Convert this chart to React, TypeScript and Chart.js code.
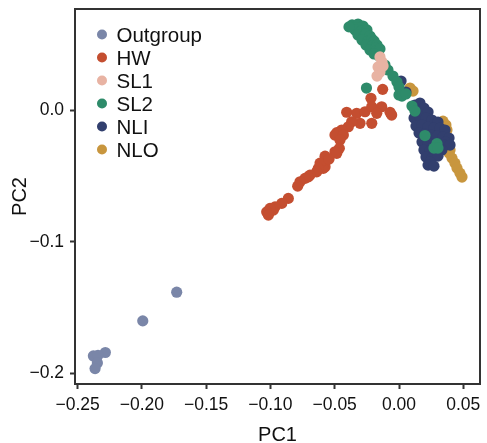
import React, { useEffect, useRef } from "react";
import { Chart, registerables } from "chart.js";

Chart.register(...registerables);

// ---------- data ----------
const groupNames = ["Outgroup", "HW", "SL1", "SL2", "NLI", "NLO"];
const groupColors = ["#7a86a8", "#c44e30", "#e8b3a3", "#2e8b6a", "#323f6e", "#c8963e"];

const outgroupPC1 = [-0.1729, -0.1993, -0.2284, -0.2377, -0.2341, -0.2346, -0.2364];
const outgroupPC2 = [-0.1383, -0.1601, -0.1841, -0.1867, -0.1862, -0.192, -0.1963];

const hwPC1 = [
  -0.0127, -0.0218, -0.0407, -0.0329, -0.0264, -0.0212, -0.0135, -0.007, -0.0057, -0.0173,
  -0.0303, -0.0212, -0.0368, -0.0394, -0.0446, -0.0484, -0.0498, -0.0433, -0.0459, -0.0464,
  -0.0498, -0.0484, -0.0575, -0.0575, -0.0589, -0.0614, -0.0628, -0.064, -0.0692, -0.0705,
  -0.0731, -0.077, -0.0788, -0.0861, -0.0912, -0.0964, -0.0977, -0.1003, -0.1029, -0.1016,
  -0.0544,
];
const hwPC2 = [
  0.0157, 0.0089, -0.0017, -0.0025, -0.0013, 0.0025, 0.0025, -0.0017, -0.0038, -0.0025,
  -0.0101, -0.0101, -0.0089, -0.0127, -0.0152, -0.0172, -0.019, -0.019, -0.0228, -0.0291,
  -0.0317, -0.0329, -0.035, -0.0431, -0.0443, -0.0403, -0.0443, -0.0469, -0.0494, -0.0507,
  -0.0519, -0.0545, -0.0578, -0.0671, -0.0709, -0.0735, -0.076, -0.0747, -0.0773, -0.0798,
  -0.0372,
];

const sl1PC1 = [-0.0148, -0.0132, -0.0163, -0.0148, -0.0171, -0.0124];
const sl1PC2 = [0.0403, 0.0365, 0.0327, 0.0289, 0.0258, 0.0334];

const sl2PC1 = [
  -0.0365, -0.0319, -0.028, -0.035, -0.0303, -0.0342, -0.0295, -0.0249, -0.0319, -0.0272,
  -0.0257, -0.0226, -0.0288, -0.0241, -0.021, -0.0194, -0.0257, -0.021, -0.0171, -0.0226,
  -0.0179, -0.0179, -0.0148, -0.0194, -0.0156, -0.0389,
  -0.0109, -0.0086, -0.0047, -0.0016, 0.0, -0.0253, 0.0, 0.0023, 0.0054, 0.0101,
  0.0124, 0.0202, 0.0295, 0.0272, 0.0303,
];
const sl2PC2 = [
  0.0646, 0.0653, 0.0638, 0.0623, 0.0623, 0.0608, 0.06, 0.0608, 0.057, 0.0562,
  0.0578, 0.0562, 0.0532, 0.0524, 0.054, 0.0524, 0.0494, 0.0486, 0.0494, 0.0456,
  0.0471, 0.0448, 0.0464, 0.0426, 0.041, 0.0631,
  0.0342, 0.0304, 0.0258, 0.0213, 0.0175, 0.0167, 0.0114, 0.0106, 0.0122, 0.003,
  -0.0008, -0.0194, -0.0255, -0.0289, -0.0289,
];

const nliPC1 = [
  0.0016, 0.0054, 0.0124, 0.0163, 0.0148, 0.0194, 0.0226, 0.0117, 0.0163, 0.021,
  0.0257, 0.0303, 0.0132, 0.0179, 0.0226, 0.0272, 0.0319, 0.0358, 0.0156, 0.0202,
  0.0249, 0.0295, 0.0342, 0.0389, 0.0179, 0.0226, 0.0365, 0.0358, 0.0397, 0.0194,
  0.0241, 0.0288, 0.0334, 0.021, 0.0257, 0.0303, 0.0241, 0.0226, 0.0272,
];
const nliPC2 = [
  0.022, 0.0137, 0.0038, 0.0053, 0.0, 0.0015, -0.0015, -0.0061, -0.0053, -0.0061,
  -0.0076, -0.0091, -0.0122, -0.0114, -0.0129, -0.0137, -0.0137, -0.0152, -0.0175, -0.0182,
  -0.019, -0.0198, -0.0205, -0.0213, -0.0243, -0.0251, -0.0243, -0.0266, -0.0266, -0.0304,
  -0.0312, -0.0304, -0.0304, -0.0357, -0.0365, -0.035, -0.0395, -0.0418, -0.0426,
];

const nloPC1 = [0.0086, 0.0109, 0.0218, 0.0342, 0.0365, 0.0373, 0.0373, 0.0397, 0.0389, 0.0412, 0.0435, 0.0451, 0.0474, 0.049];
const nloPC2 = [0.0167, 0.0144, -0.0023, -0.0084, -0.0114, -0.0152, -0.0281, -0.0304, -0.0327, -0.0365, -0.0403, -0.0441, -0.0479, -0.0509];

const xTicks = [-0.25, -0.2, -0.15, -0.1, -0.05, 0, 0.05];
const yTicks = [-0.2, -0.1, 0];
const xRange = [-0.252, 0.063];
const yRange = [-0.208, 0.0767];
const xTitle = "PC1";
const yTitle = "PC2";

const seriesPC1 = [outgroupPC1, hwPC1, sl1PC1, sl2PC1, nliPC1, nloPC1];
const seriesPC2 = [outgroupPC2, hwPC2, sl1PC2, sl2PC2, nliPC2, nloPC2];

// ---------- helpers ----------
const FONT = "'Liberation Sans', Arial, Helvetica, sans-serif";

function fmt(v: number, d: number): string {
  const r = Math.round(v * 1000) / 1000;
  if (Math.abs(r) < 1e-9) return (0).toFixed(d);
  return (r < 0 ? "\u2212" : "") + Math.abs(r).toFixed(d);
}

const frameAndLegend = {
  id: "frameAndLegend",
  afterDraw(chart: any) {
    const { ctx, chartArea } = chart;
    ctx.save();
    ctx.strokeStyle = "#333";
    ctx.lineWidth = 2;
    ctx.strokeRect(chartArea.left, chartArea.top, chartArea.right - chartArea.left, chartArea.bottom - chartArea.top);

    ctx.font = `20.5px ${FONT}`;
    ctx.textBaseline = "alphabetic";
    ctx.textAlign = "left";
    chart.data.datasets.forEach((ds: any, i: number) => {
      const y = 34.5 + i * 23;
      ctx.fillStyle = ds.backgroundColor;
      ctx.beginPath();
      ctx.arc(102, y, 5, 0, Math.PI * 2);
      ctx.fill();
      ctx.fillStyle = "#111";
      ctx.fillText(ds.label, 116.5, y + 7.3);
    });
    ctx.restore();
  },
};

export default function App() {
  const ref = useRef<HTMLCanvasElement | null>(null);

  useEffect(() => {
    document.body.style.margin = "0";
    const canvas = ref.current!;
    const datasets = groupNames.map((name, i) => ({
      label: name,
      data: seriesPC1[i].map((x, j) => ({ x, y: seriesPC2[i][j] })),
      backgroundColor: groupColors[i],
      borderColor: groupColors[i],
      pointRadius: 5.6,
      pointHoverRadius: 5.6,
      pointBorderWidth: 0,
      borderWidth: 0,
    }));

    const chart = new Chart(canvas, {
      type: "scatter",
      data: { datasets },
      plugins: [frameAndLegend],
      options: {
        animation: false,
        responsive: false,
        devicePixelRatio: 1,
        layout: { autoPadding: false, padding: { top: 9, right: 7, left: 0, bottom: 0 } },
        plugins: { legend: { display: false }, tooltip: { enabled: false } },
        scales: {
          x: {
            type: "linear",
            min: xRange[0],
            max: xRange[1],
            afterBuildTicks: (s: any) => {
              s.ticks = xTicks.map((v) => ({ value: v }));
            },
            afterFit: (s: any) => {
              s.height = 59;
              s.paddingLeft = 0;
              s.paddingRight = 0;
            },
            ticks: {
              callback: (v: any) => fmt(Number(v), 2),
              color: "#111",
              font: { size: 17.5, family: FONT },
              padding: 6,
              maxRotation: 0,
              autoSkip: false,
            },
            grid: {
              display: true,
              drawOnChartArea: false,
              drawTicks: true,
              tickLength: 5,
              tickWidth: 2,
              tickColor: "#333",
            },
            border: { display: true, color: "#333", width: 2 },
            title: {
              display: true,
              text: xTitle,
              color: "#111",
              font: { size: 20, family: FONT },
              padding: { top: 0, bottom: -4 },
            },
          },
          y: {
            type: "linear",
            min: yRange[0],
            max: yRange[1],
            afterBuildTicks: (s: any) => {
              s.ticks = yTicks.map((v) => ({ value: v }));
            },
            afterFit: (s: any) => {
              s.width = 75;
              s.paddingTop = 0;
              s.paddingBottom = 0;
            },
            ticks: {
              callback: (v: any) => fmt(Number(v), 1),
              color: "#111",
              font: { size: 17.5, family: FONT },
              padding: 6,
              autoSkip: false,
            },
            grid: {
              display: true,
              drawOnChartArea: false,
              drawTicks: true,
              tickLength: 5,
              tickWidth: 2,
              tickColor: "#333",
            },
            border: { display: true, color: "#333", width: 2 },
            title: {
              display: true,
              text: yTitle,
              color: "#111",
              font: { size: 20, family: FONT },
              padding: { top: 8, bottom: 0 },
            },
          },
        },
      },
    } as any);

    return () => chart.destroy();
  }, []);

  return (
    <div style={{ width: 487, height: 443, background: "#fff" }}>
      <canvas ref={ref} width={487} height={443} style={{ display: "block", width: 487, height: 443 }} />
    </div>
  );
}
